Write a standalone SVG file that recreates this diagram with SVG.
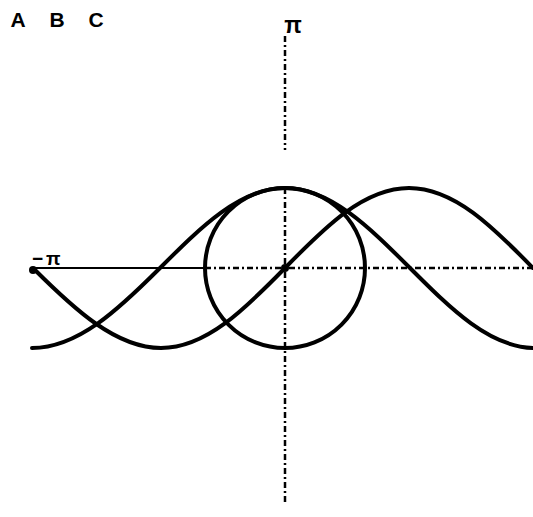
<svg xmlns="http://www.w3.org/2000/svg" width="533" height="517" viewBox="0 0 533 517">
<style>
.curve{fill:none;stroke:#000;stroke-width:4;stroke-linecap:round}
.axis{fill:none;stroke:#000;stroke-width:2}
.dash{fill:none;stroke:#000;stroke-width:2.5;stroke-dasharray:6 3 2 3}
.lbl{font-family:"Liberation Sans",Arial,sans-serif;font-weight:bold;fill:#000}
</style>
<rect width="533" height="517" fill="#fff"/>
<g id="labels">
<text class="lbl" x="18" y="27" font-size="21" text-anchor="middle">A</text>
<text class="lbl" x="57" y="27" font-size="21" text-anchor="middle">B</text>
<text class="lbl" x="96" y="27" font-size="21" text-anchor="middle">C</text>
<text class="lbl" x="293" y="33" font-size="23" text-anchor="middle">π</text>
<text class="lbl" x="32" y="265" font-size="19" letter-spacing="3">−π</text>
</g>
<g id="axes">
<line class="axis" x1="32" y1="268" x2="205" y2="268"/>
<line class="dash" x1="205" y1="268" x2="533" y2="268"/>
<line class="dash" x1="285" y1="36" x2="285" y2="150"/>
<line class="dash" x1="285" y1="188" x2="285" y2="505"/>
</g>
<g id="circle">
<circle cx="285" cy="268" r="80" class="curve"/>
</g>
<g id="curveA">
<path class="curve" d="M34,269 C74,309 116,348 161,348 C206,348 245,309 285,268 C325,227 364,188 409,188 C454,188 493,227 533,268"/>
<circle cx="33" cy="270" r="4"/>
</g>
<g id="curveB">
<path class="curve" d="M32,348 C78,348 119,309 160,268 C201,227 240,188 285,188 C330,188 369,227 410,268 C451,309 490,348 535,348"/>
</g>
<circle cx="285" cy="268" r="4"/>
</svg>
